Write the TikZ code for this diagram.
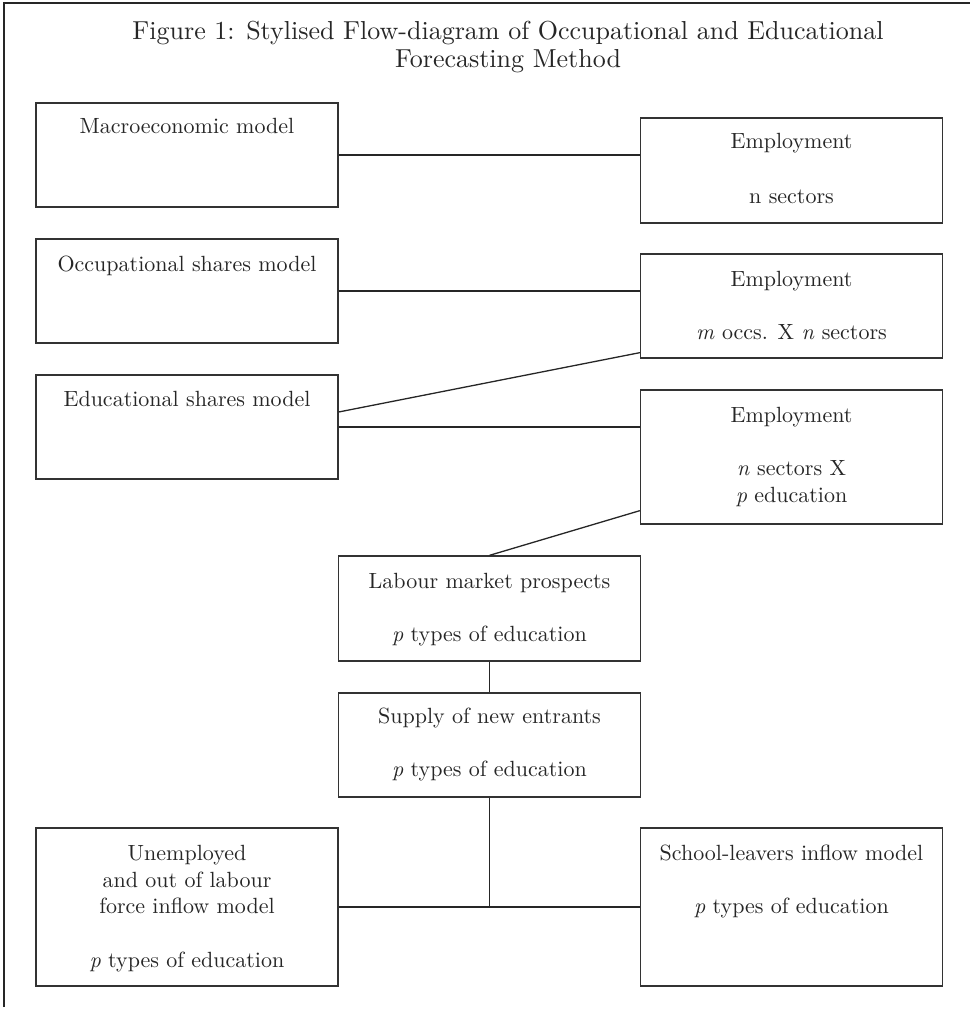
\documentclass[tikz,border=0pt]{standalone}
\usepackage{fontspec}
% the 10pt design of Latin Modern, scaled up, keeps a sturdier stroke
\setmainfont{lmroman10-regular.otf}[ItalicFont=lmroman10-italic.otf]
\usetikzlibrary{calc}
\begin{document}
\begin{tikzpicture}[x=1pt,y=-1pt,
  box/.style={draw=black!80, line width=1.3pt, inner sep=0pt, minimum width=302pt},
  link/.style={draw=black!85, line width=1.3pt},
  txt/.style={inner sep=0pt, anchor=base, text=black!85, font=\fontsize{22}{28}\selectfont},
  ttl/.style={inner sep=0pt, anchor=base, text=black!85, font=\fontsize{26}{30}\selectfont},
]
\useasboundingbox (0,0) rectangle (970,1014);

% page frame (top and left rules)
\draw[link] (4,1007) -- (4,3) -- (970,3);

% title
\node[ttl] (t1) at (508,40) {Figure 1: Stylised Flow-diagram of Occupational and Educational};
\node[ttl] (t2) at (508,68) {Forecasting Method};

% boxes
\node[box, minimum height=104pt] (macro)  at (187,155) {};
\node[box, minimum height=104pt] (occ)    at (187,291) {};
\node[box, minimum height=104pt] (edu)    at (187,427) {};
\node[box, minimum height=105pt] (emp1)   at (791.5,170.5) {};
\node[box, minimum height=104pt] (emp2)   at (791.5,306) {};
\node[box, minimum height=134pt] (emp3)   at (791.5,457) {};
\node[box, minimum height=105pt] (labour) at (489.5,608.5) {};
\node[box, minimum height=104pt] (supply) at (489.5,745) {};
\node[box, minimum height=158pt] (unemp)  at (187,907) {};
\node[box, minimum height=158pt] (school) at (791.5,907) {};

% box texts
\node[txt] at (187,134) {Macroeconomic model};
\node[txt] at (187,271) {Occupational shares model};
\node[txt] at (187,406) {Educational shares model};

\node[txt] at (791.5,149) {Employment};
\node[txt] at (791.5,203) {n sectors};
\node[txt] at (791.5,286) {Employment};
\node[txt] at (791.5,339) {\textit{m} occs. X \textit{n} sectors};
\node[txt] at (791.5,422) {Employment};
\node[txt] at (791.5,475) {\textit{n} sectors X};
\node[txt] at (791.5,502) {\textit{p} education};

\node[txt] at (489.5,588) {Labour market prospects};
\node[txt] at (489.5,641) {\textit{p} types of education};
\node[txt] at (489.5,723) {Supply of new entrants};
\node[txt] at (489.5,776) {\textit{p} types of education};

\node[txt] at (187,860) {Unemployed};
\node[txt] at (187,887) {and out of labour};
\node[txt] at (187,913) {force inflow model};
\node[txt] at (187,967) {\textit{p} types of education};

\node[txt] at (791.5,860) {School-leavers inflow model};
\node[txt] at (791.5,913) {\textit{p} types of education};

% connectors
\draw[link] (macro.east) -- (macro.east -| emp1.west);
\draw[link] (occ.east) -- (occ.east -| emp2.west);
\draw[link] ([yshift=15pt]edu.east) -- ([yshift=6pt]emp2.south west);
\draw[link] (edu.east) -- (edu.east -| emp3.west);
\draw[link] ([yshift=14pt]emp3.south west) -- (labour.north);
\draw[link] (labour.south) -- (supply.north);
\draw[link] (supply.south) -- (supply.south |- unemp.east);
\draw[link] (unemp.east) -- (school.west);
\end{tikzpicture}
\end{document}
